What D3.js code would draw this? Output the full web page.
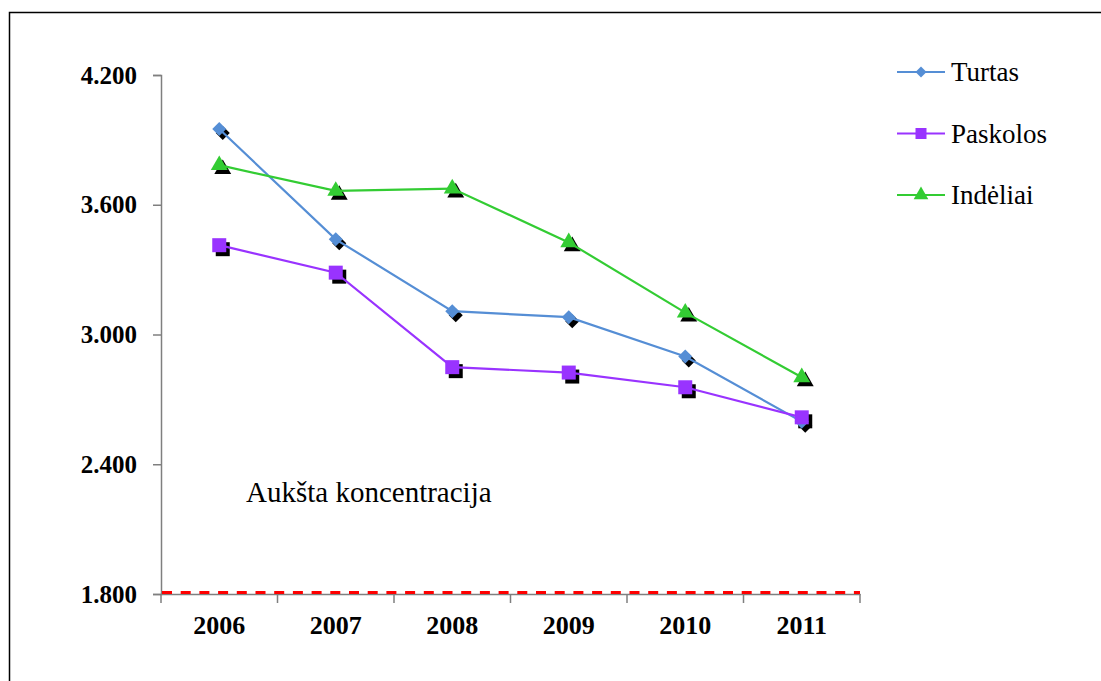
<!DOCTYPE html>
<html>
<head>
<meta charset="utf-8">
<script src="https://cdn.jsdelivr.net/npm/d3@7"></script>
<style>
  body { margin: 0; background: #fff; }
  svg { display: block; }
  svg text { font-family: "Liberation Serif", "Times New Roman", serif; }
</style>
</head>
<body>
<svg id="chart" width="1101" height="681"></svg>
<script>
// data
const years = ["2006", "2007", "2008", "2009", "2010", "2011"];
const turtas = [3950, 3440, 3108, 3080, 2898, 2597];
const paskolos = [3413, 3286, 2849, 2824, 2756, 2617];
const indeliai = [3783, 3664, 3675, 3426, 3101, 2802];
const seriesNames = ["Turtas", "Paskolos", "Indėliai"];
const yTicks = [1800, 2400, 3000, 3600, 4200];
const limit = 1800;
const note = "Aukšta koncentracija";

const colors = ["#558ed5", "#9933ff", "#33cc33"];
const shapes = ["diamond", "square", "triangle"];
const seriesValues = [turtas, paskolos, indeliai];

const svg = d3.select("#chart");

// outer frame (runs off the right and bottom)
svg.append("rect")
    .attr("x", 9.5).attr("y", 12.5)
    .attr("width", 1200).attr("height", 800)
    .attr("fill", "none").attr("stroke", "#000").attr("stroke-width", 1.5);

const x = d3.scaleBand().domain(years).range([161, 860]);
const y = d3.scaleLinear().domain([1800, 4200]).range([594, 75]);

const lt = d3.formatLocale({decimal: ",", thousands: ".", grouping: [3], currency: ["", ""]});
const fmt = lt.format(",.0f");

// y axis
const yAxis = svg.append("g")
    .attr("transform", "translate(161,0)")
    .call(d3.axisLeft(y).tickValues(yTicks).tickFormat(fmt).tickSize(8).tickPadding(16));
yAxis.attr("font-family", null);
yAxis.select(".domain").attr("stroke", "#7f7f7f").attr("stroke-width", 1.5);
yAxis.selectAll(".tick line").attr("stroke", "#7f7f7f").attr("stroke-width", 1.5);
yAxis.selectAll(".tick text")
    .attr("fill", "#000").attr("font-size", 25).attr("font-weight", "bold");

// x axis: labels at band centres, ticks at band edges
const xAxis = svg.append("g")
    .attr("transform", "translate(0,594)")
    .call(d3.axisBottom(x).tickSize(0).tickPadding(22));
xAxis.attr("font-family", null);
xAxis.select(".domain").attr("stroke", "#7f7f7f").attr("stroke-width", 1.5);
xAxis.selectAll(".tick text")
    .attr("fill", "#000").attr("font-size", 26).attr("font-weight", "bold");
const edges = years.map(d => x(d)).concat([x.range()[1]]);
xAxis.selectAll(".edge")
    .data(edges)
    .enter().append("line")
    .attr("class", "edge")
    .attr("x1", d => d).attr("x2", d => d)
    .attr("y1", 0).attr("y2", 9)
    .attr("stroke", "#7f7f7f").attr("stroke-width", 1.5);

// red dashed limit line
svg.append("line")
    .attr("x1", x.range()[0] + 1).attr("x2", x.range()[1])
    .attr("y1", y(limit) - 1.5).attr("y2", y(limit) - 1.5)
    .attr("stroke", "#ff0000").attr("stroke-width", 3)
    .attr("stroke-dasharray", "10,8.7");

svg.append("text")
    .attr("x", 246).attr("y", 502)
    .attr("font-size", 29)
    .text(note);

function marker(shape, s) {
    if (shape === "diamond") return d3.symbol(d3.symbolSquare, s * s * 0.5)();
    if (shape === "square") return d3.symbol(d3.symbolSquare, s * s)();
    return d3.symbol(d3.symbolTriangle, s * s * 0.55)();
}
function rot(shape) { return shape === "diamond" ? " rotate(45)" : ""; }

const cx = d => x(d) + x.bandwidth() / 2;
const line = d3.line().x(d => cx(d.year)).y(d => y(d.v));

const series = seriesValues.map((vals, i) => ({
    name: seriesNames[i], color: colors[i], shape: shapes[i],
    pts: years.map((yr, j) => ({year: yr, v: vals[j]}))
}));

// shadows
series.forEach(s => {
    svg.append("g").selectAll("path")
        .data(s.pts).enter().append("path")
        .attr("d", marker(s.shape, s.shape === "triangle" ? 15 : 14))
        .attr("transform", d => `translate(${cx(d.year) + 3.5},${y(d.v) + 4})` + rot(s.shape))
        .attr("fill", "#000");
});

// lines and markers
series.forEach(s => {
    svg.append("path")
        .datum(s.pts)
        .attr("d", line)
        .attr("fill", "none").attr("stroke", s.color).attr("stroke-width", 2.2);
    svg.append("g").selectAll("path")
        .data(s.pts).enter().append("path")
        .attr("d", marker(s.shape, s.shape === "triangle" ? 15 : 14))
        .attr("transform", d => `translate(${cx(d.year)},${y(d.v)})` + rot(s.shape))
        .attr("fill", s.color);
});

// legend
const legend = svg.append("g").selectAll("g")
    .data(series).enter().append("g")
    .attr("transform", (d, i) => `translate(897,${72 + i * 61.5})`);
legend.append("line")
    .attr("x1", 0).attr("x2", 48)
    .attr("stroke", d => d.color).attr("stroke-width", 2.2);
legend.append("path")
    .attr("d", d => marker(d.shape, d.shape === "triangle" ? 13 : 11))
    .attr("transform", d => "translate(24,0)" + rot(d.shape))
    .attr("fill", d => d.color);
legend.append("text")
    .attr("x", 54).attr("y", 9)
    .attr("font-size", 27)
    .text(d => d.name);
</script>
</body>
</html>
